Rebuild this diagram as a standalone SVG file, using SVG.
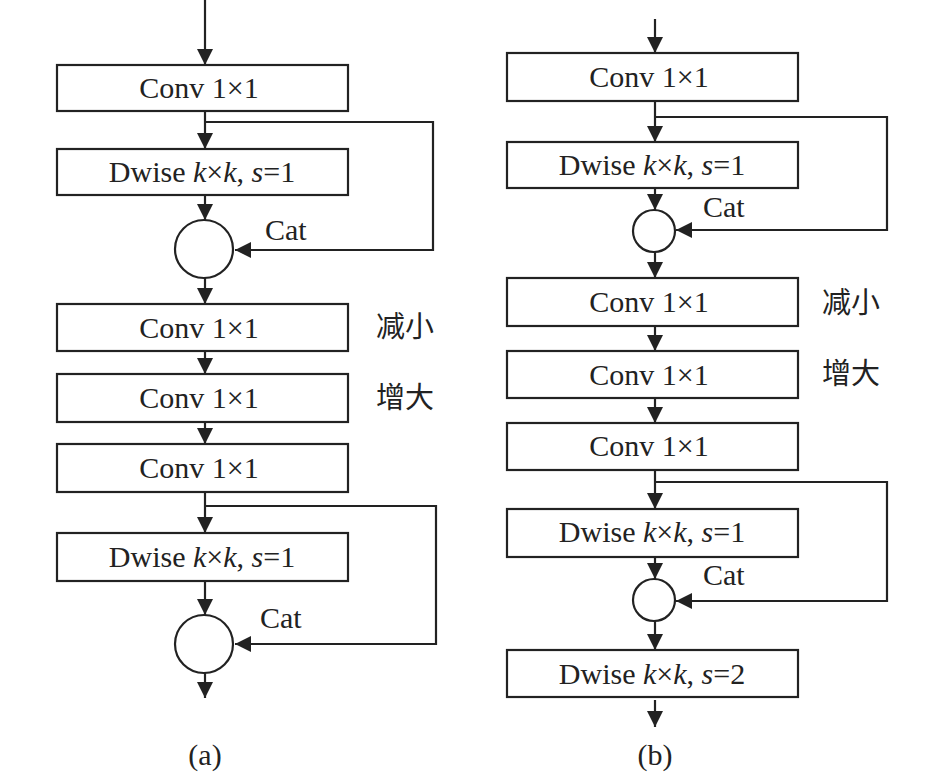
<svg xmlns="http://www.w3.org/2000/svg" width="945" height="777" viewBox="0 0 945 777">
<style>
.box{fill:#fff;stroke:#222;stroke-width:2.2}
.cir{fill:#fff;stroke:#222;stroke-width:2.2}
.ln{fill:none;stroke:#222;stroke-width:2.2}
.t{font-family:"Liberation Serif","Times New Roman",serif;font-size:30px;fill:#222;text-anchor:middle}
.tl{font-family:"Liberation Serif","Times New Roman",serif;font-size:30px;fill:#222}
.zh{font-family:"Liberation Serif","Noto Sans CJK SC",serif;font-size:29px;fill:#222}
.i{font-style:italic}
</style>
<defs>
<marker id="ah" viewBox="0 0 16 16" refX="16" refY="8" markerWidth="16" markerHeight="16" markerUnits="userSpaceOnUse" orient="auto">
<path d="M0,0 L16,8 L0,16 z" fill="#222"/>
</marker>
</defs>
<rect width="945" height="777" fill="#fff"/>
<g id="connectors" class="ln">
<line x1="205" y1="0" x2="205" y2="65" marker-end="url(#ah)"/>
<line x1="205" y1="111" x2="205" y2="149" marker-end="url(#ah)"/>
<line x1="205" y1="195" x2="205" y2="220" marker-end="url(#ah)"/>
<line x1="205" y1="278" x2="205" y2="304" marker-end="url(#ah)"/>
<line x1="205" y1="351" x2="205" y2="374" marker-end="url(#ah)"/>
<line x1="205" y1="422" x2="205" y2="444" marker-end="url(#ah)"/>
<line x1="205" y1="492" x2="205" y2="533" marker-end="url(#ah)"/>
<line x1="205" y1="581" x2="205" y2="615" marker-end="url(#ah)"/>
<line x1="205" y1="673" x2="205" y2="698" marker-end="url(#ah)"/>
<polyline points="205,122 433,122 433,250 235,250" marker-end="url(#ah)"/>
<polyline points="205,506 436,506 436,644 235,644" marker-end="url(#ah)"/>
<line x1="655" y1="19" x2="655" y2="53" marker-end="url(#ah)"/>
<line x1="655" y1="101" x2="655" y2="142" marker-end="url(#ah)"/>
<line x1="655" y1="188" x2="655" y2="210" marker-end="url(#ah)"/>
<line x1="655" y1="252" x2="655" y2="278" marker-end="url(#ah)"/>
<line x1="655" y1="326" x2="655" y2="351" marker-end="url(#ah)"/>
<line x1="655" y1="398" x2="655" y2="423" marker-end="url(#ah)"/>
<line x1="655" y1="470" x2="655" y2="509" marker-end="url(#ah)"/>
<line x1="655" y1="557" x2="655" y2="579" marker-end="url(#ah)"/>
<line x1="655" y1="621" x2="655" y2="650" marker-end="url(#ah)"/>
<line x1="655" y1="700" x2="655" y2="727" marker-end="url(#ah)"/>
<polyline points="655,117 887,117 887,230 676,230" marker-end="url(#ah)"/>
<polyline points="655,482 887,482 887,601 676,601" marker-end="url(#ah)"/>
</g>
<g id="a-conv1"><rect class="box" x="57" y="65" width="291" height="46"/><text class="t" x="199" y="98">Conv 1×1</text></g>
<g id="a-dwise1"><rect class="box" x="57" y="149" width="291" height="46"/><text class="t" x="202" y="182">Dwise <tspan class="i">k</tspan>×<tspan class="i">k</tspan>, <tspan class="i">s</tspan>=1</text></g>
<g id="a-cat1"><circle class="cir" cx="204" cy="249" r="29"/><text class="tl" x="265" y="240">Cat</text></g>
<g id="a-conv2"><rect class="box" x="57" y="304" width="291" height="47"/><text class="t" x="199" y="338">Conv 1×1</text><text class="zh" x="376" y="337">减小</text></g>
<g id="a-conv3"><rect class="box" x="57" y="374" width="291" height="48"/><text class="t" x="199" y="408">Conv 1×1</text><text class="zh" x="376" y="408">增大</text></g>
<g id="a-conv4"><rect class="box" x="57" y="444" width="291" height="48"/><text class="t" x="199" y="478">Conv 1×1</text></g>
<g id="a-dwise2"><rect class="box" x="57" y="533" width="291" height="48"/><text class="t" x="202" y="567">Dwise <tspan class="i">k</tspan>×<tspan class="i">k</tspan>, <tspan class="i">s</tspan>=1</text></g>
<g id="a-cat2"><circle class="cir" cx="204" cy="644" r="29"/><text class="tl" x="260" y="628">Cat</text></g>
<g id="a-label"><text class="t" x="205" y="765">(a)</text></g>
<g id="b-conv1"><rect class="box" x="507" y="53" width="291" height="48"/><text class="t" x="649" y="87">Conv 1×1</text></g>
<g id="b-dwise1"><rect class="box" x="507" y="142" width="291" height="46"/><text class="t" x="652" y="175">Dwise <tspan class="i">k</tspan>×<tspan class="i">k</tspan>, <tspan class="i">s</tspan>=1</text></g>
<g id="b-cat1"><circle class="cir" cx="654" cy="231" r="21"/><text class="tl" x="703" y="217">Cat</text></g>
<g id="b-conv2"><rect class="box" x="507" y="278" width="291" height="48"/><text class="t" x="649" y="312">Conv 1×1</text><text class="zh" x="822" y="313">减小</text></g>
<g id="b-conv3"><rect class="box" x="507" y="351" width="291" height="47"/><text class="t" x="649" y="385">Conv 1×1</text><text class="zh" x="822" y="384">增大</text></g>
<g id="b-conv4"><rect class="box" x="507" y="423" width="291" height="47"/><text class="t" x="649" y="456">Conv 1×1</text></g>
<g id="b-dwise2"><rect class="box" x="507" y="509" width="291" height="48"/><text class="t" x="652" y="542">Dwise <tspan class="i">k</tspan>×<tspan class="i">k</tspan>, <tspan class="i">s</tspan>=1</text></g>
<g id="b-cat2"><circle class="cir" cx="654" cy="600" r="21"/><text class="tl" x="703" y="585">Cat</text></g>
<g id="b-dwise3"><rect class="box" x="507" y="650" width="291" height="47"/><text class="t" x="652" y="684">Dwise <tspan class="i">k</tspan>×<tspan class="i">k</tspan>, <tspan class="i">s</tspan>=2</text></g>
<g id="b-label"><text class="t" x="655" y="765">(b)</text></g>
</svg>
